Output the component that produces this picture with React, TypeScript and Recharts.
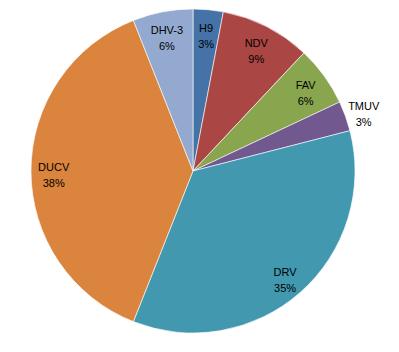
import { PieChart, Pie, Cell } from "recharts";

const NAMES = ["H9", "NDV", "FAV", "TMUV", "DRV", "DUCV", "DHV-3"];
const VALUES = [3, 9, 6, 3, 35, 38, 6];
const COLORS = ["#4572A7", "#AA4643", "#89A54E", "#71588F", "#4198AF", "#DB843D", "#93A9CF"];
// small slices whose label sits outside the pie
const OUTSIDE = ["TMUV"];

const data = NAMES.map((name, i) => ({ name, value: VALUES[i] }));

const RADIAN = Math.PI / 180;

function renderLabel(props: any) {
  const { cx, cy, midAngle, outerRadius, name, value } = props;
  const outside = OUTSIDE.includes(name);
  const r = outside ? outerRadius * 1.12 : outerRadius * 0.86;
  const x = cx + r * Math.cos(-midAngle * RADIAN);
  const y = cy + r * Math.sin(-midAngle * RADIAN) + 3;
  return (
    <text
      x={x}
      y={y}
      textAnchor="middle"
      fill="#000"
      fontSize={11}
      fontFamily="'Liberation Sans', Arial, sans-serif"
    >
      <tspan x={x} dy={-3}>{name}</tspan>
      <tspan x={x} dy={16}>{`${value}%`}</tspan>
    </text>
  );
}

export default function App() {
  return (
    <div style={{ position: "absolute", left: 0, top: 0, width: 399, height: 352, background: "#fff" }}>
      <PieChart width={399} height={352} margin={{ top: 0, right: 0, bottom: 0, left: 0 }}>
        <Pie
          data={data}
          dataKey="value"
          nameKey="name"
          cx={193}
          cy={171}
          outerRadius={162}
          startAngle={90}
          endAngle={-270}
          stroke="#ffffff"
          strokeWidth={0.6}
          label={renderLabel}
          labelLine={false}
          isAnimationActive={false}
        >
          {data.map((d, i) => (
            <Cell key={d.name} fill={COLORS[i]} />
          ))}
        </Pie>
      </PieChart>
    </div>
  );
}
